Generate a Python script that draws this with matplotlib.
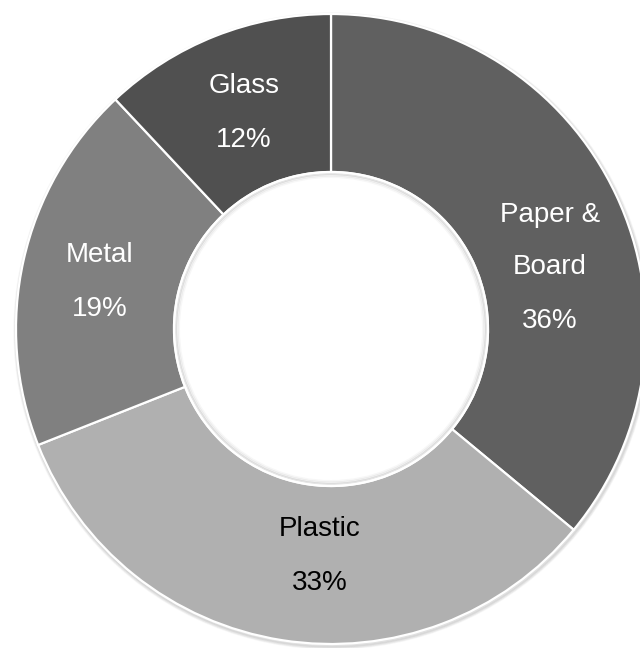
import matplotlib
matplotlib.use("Agg")
import matplotlib.pyplot as plt

categories = ["Paper &\nBoard", "Plastic", "Metal", "Glass"]
values = [36, 33, 19, 12]
colors = ["#606060", "#b0b0b0", "#808080", "#505050"]
text_colors = ["white", "black", "white", "white"]

plt.rcParams['font.family'] = ['Liberation Sans', 'DejaVu Sans']

fig = plt.figure(figsize=(6.4, 6.48), dpi=100)
ax = fig.add_axes([0, 0, 1, 1])

cx, cy, R, W = 331, -329, 315, 158

# subtle outer shadow
for i, a in enumerate([0.05, 0.04, 0.03]):
    ax.add_patch(plt.Circle((cx + 1, cy - 2), R + 1 + i, color='black', alpha=a, zorder=0))

wedges, _ = ax.pie(values, colors=colors, startangle=90, counterclock=False,
                   radius=R, center=(cx, cy), frame=True,
                   wedgeprops=dict(width=W, edgecolor='white', linewidth=1.6))

# white hole with slight inner shadow
ax.add_patch(plt.Circle((cx, cy), R - W - 0.8, color='white', zorder=2))
for i, a in enumerate([0.10, 0.06, 0.03]):
    ax.add_patch(plt.Circle((cx, cy), R - W - 2.0 - i * 1.5, fill=False,
                            edgecolor='black', alpha=a, linewidth=1.5, zorder=3))
ax.add_patch(plt.Circle((cx, cy), R - W, fill=False, edgecolor='white', linewidth=1.6, zorder=4))

ax.set_xlim(0, 640)
ax.set_ylim(-648, 0)
ax.set_aspect('equal')
ax.axis('off')

# label baselines (pixel rows)
label_pos = [(550, [222, 274, 328]), (320, [536, 590]), (100, [262, 316]), (244, [93, 147])]
for cat, val, tc, (x, ys) in zip(categories, values, text_colors, label_pos):
    lines = cat.split("\n") + [f"{val}%"]
    for line, y in zip(lines, ys):
        ax.text(x, -y, line, ha='center', va='baseline', fontsize=20, color=tc, zorder=5)

fig.savefig("out.png", dpi=100, facecolor='white')
